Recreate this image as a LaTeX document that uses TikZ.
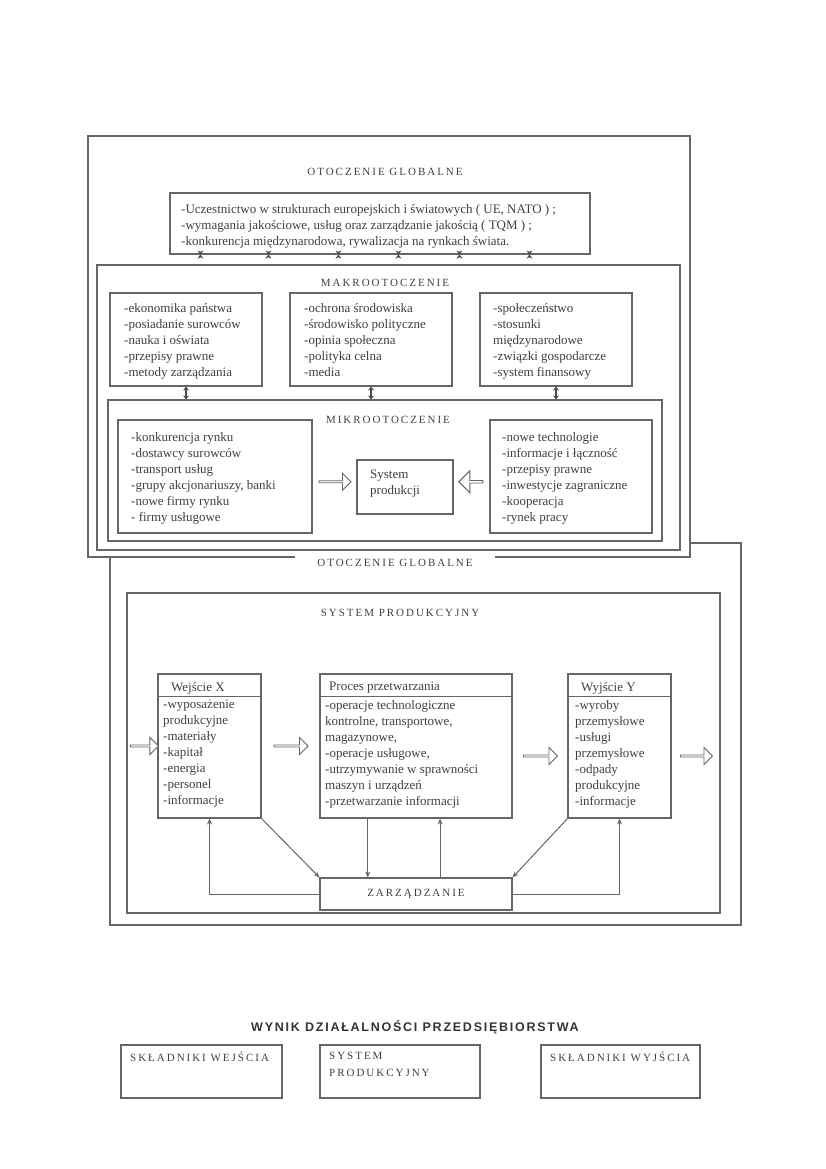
\documentclass[tikz,border=0pt]{standalone}
\usepackage{fontspec}
\setmainfont{Liberation Serif}
\newfontfamily\hdfont[LetterSpace=18]{Liberation Serif}
\newfontfamily\ttlfont[LetterSpace=14]{Liberation Sans}
\usetikzlibrary{shapes.arrows,arrows.meta,calc,fit}
\begin{document}
\begin{tikzpicture}[x=1pt,y=-1pt,
  ln/.style={draw=black!60,line width=1.1pt},
  frame/.style={ln,fill=white,inner sep=0pt},
  box/.style={ln,fill=white,inner sep=0pt},
  txt/.style={font=\fontsize{13}{16}\selectfont,align=left,inner sep=0pt,anchor=north west,text=black!75},
  hd/.style={font=\hdfont\fontsize{11}{17}\selectfont,inner sep=1pt,text=black!75},
  barrow/.style={single arrow,draw=black!60,line width=0.9pt,fill=white,minimum width=17pt,single arrow head extend=3.5pt,inner sep=0pt},
  arr/.style={draw=black!60,line width=1pt,-{Stealth[length=6pt,width=5pt]}},
  dbl/.style={draw=black!70,line width=1.2pt,{Stealth[length=4pt,width=6pt]}-{Stealth[length=4pt,width=6pt]}}
]
\useasboundingbox[fill=white] (0,0) rectangle (826,1169);

% ---------- lower frame (drawn first, behind) ----------
\node[frame,fit={(110,543) (741,925)}] (fr2) {};
\node[frame,fit={(127,593) (720,913)}] (sys) {};
\node[hd] (sysl) at (400,613) {SYSTEM PRODUKCYJNY};

% ---------- upper frame ----------
\node[frame,fit={(88,136) (690,557)}] (fr1) {};
\node[hd] (glob1) at (385,172) {OTOCZENIE GLOBALNE};
\node[box,fit={(170,193) (590,254)}] (tb) {};
\node[txt] (tbt) at (181,204) {-Uczestnictwo w strukturach europejskich i światowych ( UE, NATO ) ;\\
-wymagania jakościowe, usług oraz zarządzanie jakością ( TQM ) ;\\
-konkurencja międzynarodowa, rywalizacja na rynkach świata.};

\node[frame,fit={(97,265) (680,550)}] (mf) {};
\node[hd] (mfl) at (385,283) {MAKROOTOCZENIE};

\foreach \dx in {31,99,169,229,290,360}
  \draw[dbl] ($(tb.south west)+(\dx,0)$) -- ($(tb.south west)+(\dx,0)$ |- mf.north);

\node[box,fit={(110,293) (262,386)}] (m1) {};
\node[box,fit={(290,293) (452,386)}] (m2) {};
\node[box,fit={(480,293) (632,386)}] (m3) {};
\node[txt] (m1t) at (124,303) {-ekonomika państwa\\-posiadanie surowców\\-nauka i oświata\\-przepisy prawne\\-metody zarządzania};
\node[txt] (m2t) at (304,303) {-ochrona środowiska\\-środowisko polityczne\\-opinia społeczna\\-polityka celna\\-media};
\node[txt] (m3t) at (493,303) {-społeczeństwo\\-stosunki\\międzynarodowe\\-związki gospodarcze\\-system finansowy};

\node[frame,fit={(108,400) (662,541)}] (mk) {};
\node[hd] (mkl) at (388,420) {MIKROOTOCZENIE};

\draw[dbl] (m1.south) -- (m1.south |- mk.north);
\draw[dbl] (m2.south) -- (m2.south |- mk.north);
\draw[dbl] (m3.south) -- (m3.south |- mk.north);

\node[box,fit={(118,420) (312,533)}] (ml) {};
\node[box,fit={(357,460) (453,514)}] (sp) {};
\node[box,fit={(490,420) (652,533)}] (mr) {};
\node[txt] (mlt) at (131,432) {-konkurencja rynku\\-dostawcy surowców\\-transport usług\\-grupy akcjonariuszy, banki\\-nowe firmy rynku\\- firmy usługowe};
\node[txt] (spt) at (370,470) {System\\produkcji};
\node[txt] (mrt) at (502,432) {-nowe technologie\\-informacje i łączność\\-przepisy prawne\\-inwestycje zagraniczne\\-kooperacja\\-rynek pracy};

\node[barrow,minimum height=32pt] (ba1) at ($(ml.east)!0.5!(sp.west)$) {};
\node[barrow,minimum height=24pt,minimum width=22pt,shape border rotate=180] (ba2) at ($(sp.east)!0.5!(mr.west)$) {};

% label of lower frame over upper frame bottom
\node[hd,fill=white,minimum width=200pt,minimum height=18pt] (glob2) at (395,563) {OTOCZENIE GLOBALNE};

% ---------- system produkcyjny ----------
\node[box,fit={(158,674) (261,818)}] (wx) {};
\node[box,fit={(320,674) (512,818)}] (pp) {};
\node[box,fit={(568,674) (671,818)}] (wy) {};
\draw[ln] ($(wx.north west)+(0,23)$) -- ($(wx.north east)+(0,23)$);
\draw[ln] ($(pp.north west)+(0,23)$) -- ($(pp.north east)+(0,23)$);
\draw[ln] ($(wy.north west)+(0,23)$) -- ($(wy.north east)+(0,23)$);

\node[txt] (wxh) at (171,682) {Wejście X};
\node[txt] (pph) at (329,682) {Proces przetwarzania};
\node[txt] (wyh) at (581,682) {Wyjście Y};
\node[txt] (wxt) at (163,700) {-wyposażenie\\produkcyjne\\-materiały\\-kapitał\\-energia\\-personel\\-informacje};
\node[txt] (ppt) at (325,700) {-operacje technologiczne\\kontrolne, transportowe,\\magazynowe,\\-operacje usługowe,\\-utrzymywanie w sprawności\\maszyn i urządzeń\\-przetwarzanie informacji};
\node[txt] (wyt) at (575,700) {-wyroby\\przemysłowe\\-usługi\\przemysłowe\\-odpady\\produkcyjne\\-informacje};

\node[barrow,minimum height=28pt] (bin) at ($(sys.west |- wx.west)!0.5!(wx.west)+(2,0)$) {};
\node[barrow,minimum height=34pt] (bxp) at ($(wx.east)!0.5!(pp.west)$) {};
\node[barrow,minimum height=34pt] (bpy) at ($(pp.east)!0.5!(wy.west)+(0,10)$) {};
\node[barrow,minimum height=32pt] (bout) at ($(wy.east)!0.5!(sys.east |- wy.east)+(0,10)$) {};

\node[box,fit={(320,878) (512,910)}] (zz) {};
\node[hd] (zzl) at (416,894) {ZARZĄDZANIE};

\draw[arr] (zz.west) -| (wx.south);
\draw[arr] (zz.east) -| (wy.south);
\draw[arr] (wx.south east) -- (zz.north west);
\draw[arr] (wy.south west) -- (zz.north east);
\draw[arr] ($(pp.south west)!0.25!(pp.south east)$) -- ($(zz.north west)!0.25!(zz.north east)$);
\draw[arr] ($(zz.north west)!0.625!(zz.north east)$) -- ($(pp.south west)!0.625!(pp.south east)$);

% ---------- bottom ----------
\node[font=\ttlfont\bfseries\fontsize{12.5}{14}\selectfont,text=black!80] (ttl) at (415,1027) {WYNIK DZIAŁALNOŚCI PRZEDSIĘBIORSTWA};
\node[box,fit={(121,1045) (282,1098)}] (b1) {};
\node[box,fit={(320,1045) (480,1098)}] (b2) {};
\node[box,fit={(541,1045) (700,1098)}] (b3) {};
\node[hd,anchor=north west,align=left] (b1t) at (129,1051) {SKŁADNIKI WEJŚCIA};
\node[hd,anchor=north west,align=left] (b2t) at (328,1051) {SYSTEM\\PRODUKCYJNY};
\node[hd,anchor=north west,align=left] (b3t) at (549,1051) {SKŁADNIKI WYJŚCIA};
\end{tikzpicture}
\end{document}
